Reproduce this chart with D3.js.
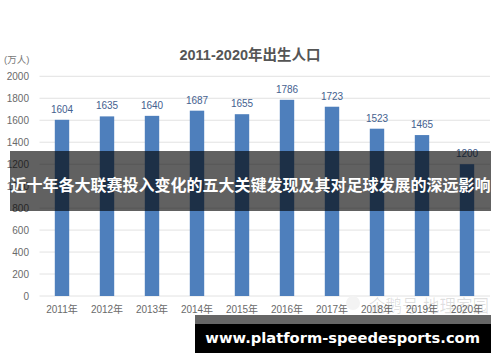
<!DOCTYPE html>
<html>
<head>
<meta charset="utf-8">
<script src="https://cdnjs.cloudflare.com/ajax/libs/d3/7.8.5/d3.min.js"></script>
<style>
  html, body { margin: 0; padding: 0; background: #fff; }
  svg { display: block; }
  text { font-family: "Liberation Sans", "Noto Sans CJK SC", sans-serif; }
</style>
</head>
<body>
<svg id="chart" width="500" height="362"></svg>
<script>
var years = ["2011年", "2012年", "2013年", "2014年", "2015年", "2016年", "2017年", "2018年", "2019年", "2020年"];
var births = [1604, 1635, 1640, 1687, 1655, 1786, 1723, 1523, 1465, 1200];
var yTicks = [0, 200, 400, 600, 800, 1000, 1200, 1400, 1600, 1800, 2000];

var chartTitle = "2011-2020年出生人口";
var unitLabel = "(万人)";
var bannerText = "近十年各大联赛投入变化的五大关键发现及其对足球发展的深远影响";
var siteText = "www.platform-speedesports.com";
var watermark = "企鹅号 地理家园";

var svg = d3.select("#chart");

var x = d3.scaleBand().domain(years).range([39.5, 489.5]).paddingInner(0.68).paddingOuter(0.34);
var y = d3.scaleLinear().domain([0, 2000]).range([296, 76.3]);

// grid lines
svg.append("g").selectAll("line").data(yTicks).enter().append("line")
  .attr("x1", 39.5).attr("x2", 490)
  .attr("y1", function (d) { return y(d); })
  .attr("y2", function (d) { return y(d); })
  .attr("stroke", "#e2e2e2").attr("stroke-width", 1);

// y axis labels
svg.append("g").selectAll("text").data(yTicks).enter().append("text")
  .attr("x", 29).attr("y", function (d) { return y(d) + 4; })
  .attr("text-anchor", "end").attr("font-size", 10).attr("fill", "#6a6a6a")
  .text(function (d) { return d; });

// x axis
var xAxis = d3.axisBottom(x).tickSize(0).tickPadding(0);
var xg = svg.append("g").attr("transform", "translate(0,306)").call(xAxis);
xg.select(".domain").remove();
xg.selectAll("text").attr("font-size", 10).attr("fill", "#6a6a6a").attr("font-family", null);

// bars
svg.append("g").selectAll("rect").data(births).enter().append("rect")
  .attr("x", function (d, i) { return x(years[i]); })
  .attr("y", function (d) { return y(d); })
  .attr("width", x.bandwidth())
  .attr("height", function (d) { return y(0) - y(d); })
  .attr("fill", "#4e7fbc");

// value labels
svg.append("g").selectAll("text").data(births).enter().append("text")
  .attr("x", function (d, i) { return x(years[i]) + x.bandwidth() / 2; })
  .attr("y", function (d) { return y(d) - 7; })
  .attr("text-anchor", "middle").attr("font-size", 10).attr("fill", "#44618f")
  .text(function (d) { return d; });

svg.append("text").attr("x", 250).attr("y", 60).attr("text-anchor", "middle")
  .attr("font-size", 14.5).attr("font-weight", "bold").attr("fill", "#555")
  .text(chartTitle);

svg.append("text").attr("x", 4).attr("y", 63)
  .attr("font-size", 9.5).attr("fill", "#777").text(unitLabel);

// faint watermark bottom right
svg.append("circle").attr("cx", 353).attr("cy", 303).attr("r", 7).attr("fill", "#f3f3f3");
svg.append("text").attr("x", 489).attr("y", 312).attr("text-anchor", "end")
  .attr("font-size", 16.5).attr("fill", "#000").attr("fill-opacity", 0.13).text(watermark);

// overlay banner
svg.append("rect").attr("x", 10).attr("y", 151).attr("width", 481).attr("height", 60)
  .attr("fill", "#000").attr("fill-opacity", 0.62);
svg.append("text").attr("x", 250.5).attr("y", 190.5).attr("text-anchor", "middle")
  .attr("font-size", 16).attr("font-weight", "bold").attr("fill", "#fff").text(bannerText);

// site strip
svg.append("rect").attr("x", 195).attr("y", 315).attr("width", 296).attr("height", 9).attr("fill", "#666");
svg.append("rect").attr("x", 195).attr("y", 324).attr("width", 296).attr("height", 29).attr("fill", "#000");
svg.append("text").attr("x", 480).attr("y", 343).attr("text-anchor", "end")
  .style("font-family", "'DejaVu Sans'").attr("font-size", 14.7).attr("font-weight", "bold").attr("fill", "#fff")
  .text(siteText);
</script>
</body>
</html>
